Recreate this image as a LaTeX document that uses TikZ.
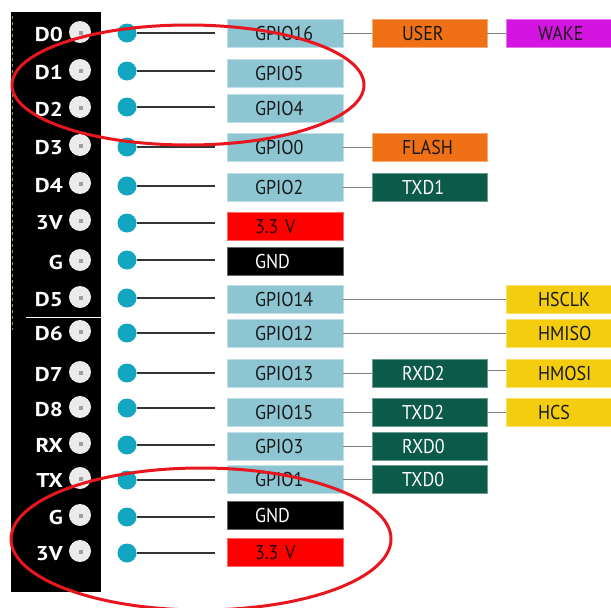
\documentclass[tikz,border=0pt]{standalone}
\usepackage{fontspec}
\setmainfont{PT Sans}
\newfontfamily\boxfont[FakeStretch=0.9]{PT Sans}
\newfontfamily\pinfont[FakeStretch=1.15]{PT Sans Bold}
\usetikzlibrary{calc}
\definecolor{gpio}{HTML}{8DC5D2}
\definecolor{orng}{HTML}{F07015}
\definecolor{magn}{HTML}{D414E0}
\definecolor{dgrn}{HTML}{0C5A4A}
\definecolor{yell}{HTML}{F3CD0E}
\definecolor{pwr}{HTML}{FF0000}
\definecolor{bdot}{HTML}{13A6C1}
\definecolor{ering}{HTML}{E8161E}
\definecolor{pinfill}{HTML}{EBEBEB}
\begin{document}
\begin{tikzpicture}[x=1pt,y=-1pt,
  pinhole/.style={circle, minimum size=22pt, inner sep=0pt, fill=pinfill,
    path picture={\fill[gray!75] ([xshift=1pt,yshift=-1pt]path picture bounding box.center) +(-2pt,-2pt) rectangle +(2pt,2pt);}},
  lbl/.style={anchor=base east, text=white, inner sep=0pt, font=\pinfont\fontsize{20}{20}\selectfont},
  bluedot/.style={circle, minimum size=19pt, inner sep=0pt, fill=bdot},
  wire/.style={draw=black!80, line width=1.4pt},
  link/.style={draw=black!50, line width=1pt},
  box/.style={minimum height=28pt, inner ysep=0pt, text height=14pt, text depth=0pt,
    align=left, font=\boxfont\fontsize{20}{20}\selectfont, line width=0.8pt},
  c1/.style={box, text width=60pt, inner xsep=28pt},
  c2/.style={box, text width=55pt, inner xsep=30pt},
  c3/.style={box, text width=41pt, inner xsep=32pt},
  fgpio/.style={fill=gpio, draw=gpio!55!white, text=black!90},
  forng/.style={fill=orng, draw=orng!60!white, text=black!90},
  fmagn/.style={fill=magn, draw=magn!60!white, text=black!90},
  fdgrn/.style={fill=dgrn, draw=dgrn!60!white, text=white},
  fyell/.style={fill=yell, draw=yell!60!white, text=black!90},
  fpwr/.style={fill=pwr, draw=pwr!60!white, text=black!85!red},
  fgnd/.style={fill=black, draw=black!60!white, text=white},
  ring/.style={draw=ering, line width=3pt}
]
\useasboundingbox (0,0) rectangle (611,608);
\fill[white] (0,0) rectangle (611,608);
% header strip
\fill[black] (11,12) rectangle (101,592);
\draw[draw=yellow!55!black, line width=1pt, dash pattern=on 3pt off 3pt] (12,16) -- (12,330);
\draw[white, line width=1pt] (26,317) -- (102,317);

\foreach \i/\t/\py/\dy in {1/D0/32/33, 2/D1/70/71, 3/D2/107/107, 4/D3/145/147, 5/D4/183/186,
  6/3V/220/223, 7/G/260/260, 8/D5/297/298, 9/D6/331/333, 10/D7/372/373, 11/D8/407/408,
  12/RX/443/445, 13/TX/478/480, 14/G/515/517, 15/3V/551/553}{
  \node[pinhole] (p\i) at (80,\py) {};
  \node[lbl] (l\i) at (63,\py+9) {\t};
  \node[bluedot] (d\i) at (127,\dy) {};
}

% first column
\node[c1, fgpio] (b1) at (285,33.5) {GPIO16};
\node[c1, fgpio] (b2) at (285,73) {GPIO5};
\node[c1, fgpio] (b3) at (285,108.5) {GPIO4};
\node[c1, fgpio] (b4) at (285,147.5) {GPIO0};
\node[c1, fgpio] (b5) at (285,187.5) {GPIO2};
\node[c1, fpwr] (b6) at (285,226) {3.3 V};
\node[c1, fgnd] (b7) at (285,261) {GND};
\node[c1, fgpio] (b8) at (285,299.5) {GPIO14};
\node[c1, fgpio] (b9) at (285,333.5) {GPIO12};
\node[c1, fgpio] (b10) at (285,373) {GPIO13};
\node[c1, fgpio] (b11) at (285,412.5) {GPIO15};
\node[c1, fgpio] (b12) at (285,446) {GPIO3};
\node[c1, fgpio] (b13) at (285,479) {GPIO1};
\node[c1, fgnd] (b14) at (285,515.5) {GND};
\node[c1, fpwr] (b15) at (285,552) {3.3 V};

% second column
\node[c2, forng] (user) at (429.5,33.5) {USER};
\node[c2, forng] (flash) at (429.5,147.5) {FLASH};
\node[c2, fdgrn] (txd1) at (429.5,187.5) {TXD1};
\node[c2, fdgrn] (rxd2) at (429.5,373) {RXD2};
\node[c2, fdgrn] (txd2) at (429.5,412.5) {TXD2};
\node[c2, fdgrn] (rxd0) at (429.5,446) {RXD0};
\node[c2, fdgrn] (txd0) at (429.5,479) {TXD0};

% third column
\node[c3, fmagn] (wake) at (558.5,33.5) {WAKE};
\node[c3, fyell] (hsclk) at (558.5,299.5) {HSCLK};
\node[c3, fyell] (hmiso) at (558.5,333.5) {HMISO};
\node[c3, fyell] (hmosi) at (558.5,373) {HMOSI};
\node[c3, fyell] (hcs) at (558.5,412.5) {HCS};

% wires from dots
\foreach \i in {1,...,15}{
  \draw[wire, shorten >=12pt] (d\i.east) -- (d\i.east -| b\i.west);
}

% links
\draw[link] (b1.east) -- (user.west);
\draw[link] (user.east) -- (wake.west);
\draw[link] (b4.east) -- (flash.west);
\draw[link] (b5.east) -- (txd1.west);
\draw[link] (b8.east) -- (hsclk.west);
\draw[link] (b9.east) -- (hmiso.west);
\draw[link] (b10.east) -- (rxd2.west);
\draw[link] ([yshift=3pt]rxd2.east) -- ([yshift=3pt]hmosi.west);
\draw[link] (b11.east) -- (txd2.west);
\draw[link] (txd2.east) -- (hcs.west);
\draw[link] (b12.east) -- (rxd0.west);
\draw[link] (b13.east) -- (txd0.west);

% red rings
\draw[ring] (188,85) ellipse [x radius=176pt, y radius=60pt];
\draw[ring] (201,539) ellipse [x radius=190pt, y radius=71pt];
\end{tikzpicture}
\end{document}
